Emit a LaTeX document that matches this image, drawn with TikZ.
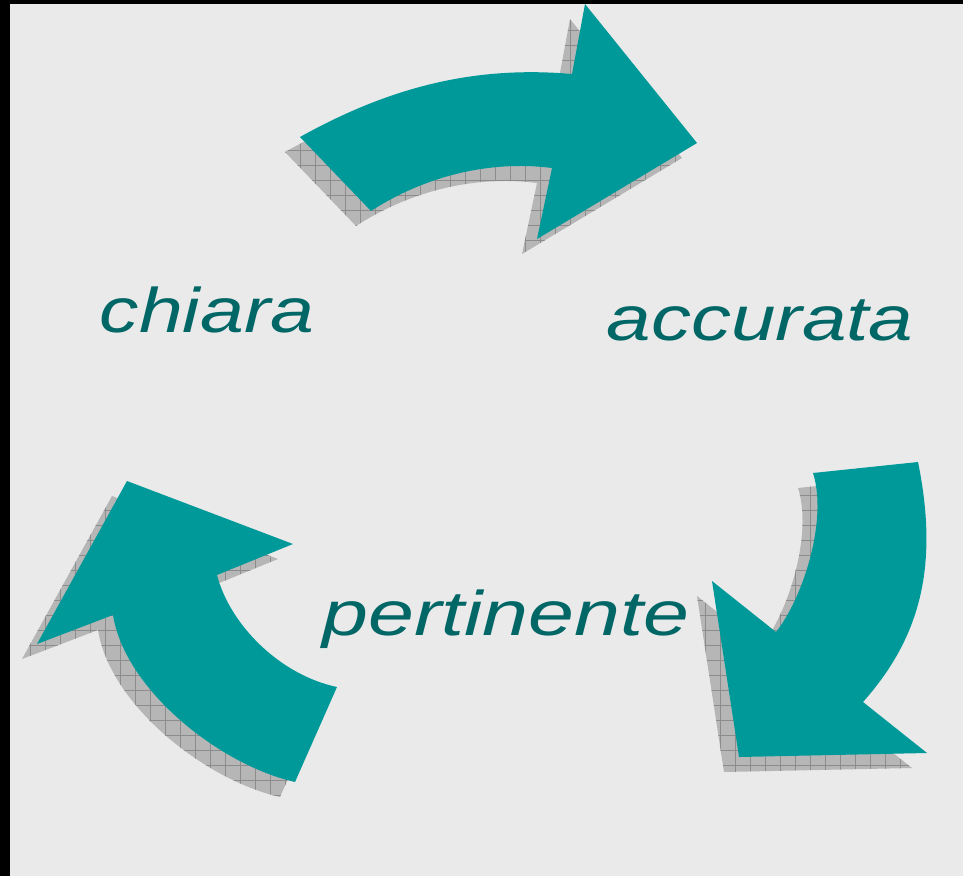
\documentclass[tikz,border=0pt]{standalone}
\usepackage{fontspec}
\setmainfont{Liberation Sans}
\usepackage{graphicx}
\definecolor{arrowteal}{RGB}{0,153,153}
\definecolor{labelteal}{RGB}{0,102,102}
\definecolor{backgray}{RGB}{234,234,234}
\definecolor{shadowgray}{RGB}{182,182,182}
\definecolor{hatchgray}{RGB}{140,140,140}

% outlines of the three bent arrows
\newcommand{\arrowtop}{(300,137) .. controls (395,84) and (480,66) .. (572,74) -- (585,4) -- (697,143) -- (537,239) -- (552,168) .. controls (490,160) and (425,176) .. (371,211) -- cycle}
\newcommand{\arrowright}{(813,473) -- (918,462) .. controls (940,570) and (918,640) .. (863,702) -- (927,753) -- (739,757) -- (712,581) -- (776,632) .. controls (803,598) and (828,520) .. (813,473) -- cycle}
\newcommand{\arrowleft}{(127,481) -- (293,544) -- (217,575) .. controls (230,625) and (280,675) .. (337,687) -- (295,782) .. controls (220,765) and (125,690) .. (113,615) -- (37,644) -- cycle}
\newcommand{\wideword}[2]{\scalebox{#1}[1]{#2}}

\begin{document}
\begin{tikzpicture}[x=1pt,y=-1pt,
  hatch/.style={hatchgray,line width=0.5pt},
  word/.style={text=labelteal,font=\fontsize{63}{70}\selectfont\itshape,inner sep=0pt,anchor=base}]
\useasboundingbox (0,0) rectangle (963,876);
\fill[backgray] (0,0) rectangle (963,876);
\fill[black] (0,0) rectangle (10,876);
\fill[black] (0,0) rectangle (963,4);
% shadows
\foreach \shape in {\arrowtop,\arrowright,\arrowleft}{
  \begin{scope}
  \clip[shift={(-15,15)}] \shape;
  \fill[shadowgray] (0,0) rectangle (963,876);
  \foreach \gx in {0,15,...,960} \draw[hatch] (\gx,0) -- (\gx,876);
  \foreach \gy in {0,15,...,870} \draw[hatch] (0,\gy) -- (963,\gy);
  \end{scope}
}
% arrows
\fill[arrowteal] \arrowtop;
\fill[arrowteal] \arrowright;
\fill[arrowteal] \arrowleft;
% words
\node[word] (chiara) at (207,332) {\wideword{1.25}{chiara}};
\node[word] (accurata) at (760,340) {\wideword{1.27}{accurata}};
\node[word] (pertinente) at (506,635) {\wideword{1.31}{pertinente}};
\end{tikzpicture}
\end{document}
